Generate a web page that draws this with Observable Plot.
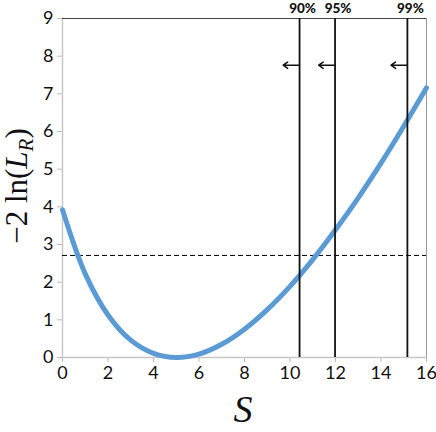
<!DOCTYPE html>
<html>
<head>
<meta charset="utf-8">
<script src="https://cdn.jsdelivr.net/npm/d3@7"></script>
<script src="https://cdn.jsdelivr.net/npm/@observablehq/plot@0.6"></script>
<style>
  html, body { margin: 0; padding: 0; background: #fff; }
  #chart { width: 436px; height: 432px; }
</style>
</head>
<body>
<div id="chart"></div>
<script>
// Curve values
const sValues = [0, 1, 2, 3, 4, 5, 6, 7, 8, 9, 10, 11, 12, 13, 14, 15, 16];
const llrValues = [3.92, 2.22, 1.13, 0.46, 0.11, 0, 0.09, 0.35, 0.75, 1.27, 1.89, 2.6, 3.39, 4.24, 5.16, 6.14, 7.16];

// Confidence-limit lines
const limitLabels = ["90%", "95%", "99%"];
const limitValues = [10.42, 11.98, 15.16];

const thresholdValue = 2.71;
const arrowY = 7.76;
const arrowLength = 0.72;

const xTicks = [0, 2, 4, 6, 8, 10, 12, 14, 16];
const yTicks = [0, 1, 2, 3, 4, 5, 6, 7, 8, 9];

const curve = sValues.map((s, i) => ({s, v: llrValues[i]}));
const limits = limitLabels.map((label, i) => ({label, s: limitValues[i]}));

const tickFont = "Lato, 'Open Sans', sans-serif";

const chart = Plot.plot({
  width: 436,
  height: 432,
  marginLeft: 62,
  marginRight: 10,
  marginTop: 18,
  marginBottom: 75,
  style: {fontFamily: tickFont, background: "#fff", overflow: "visible"},
  x: {domain: [0, 16], ticks: xTicks},
  y: {domain: [0, 9], ticks: yTicks},
  marks: [
    Plot.axisX({ticks: xTicks, tickSize: 5, tickPadding: 4, stroke: "#bbb", fontSize: 18, color: "#111", label: null}),
    Plot.axisY({ticks: yTicks, tickSize: 5, tickPadding: 4, stroke: "#bbb", fontSize: 18, color: "#111", label: null}),
    Plot.ruleY([0], {stroke: "#c8c8c8", strokeWidth: 1.5}),
    Plot.ruleX([0], {stroke: "#c8c8c8", strokeWidth: 1.5}),
    Plot.ruleY([9], {stroke: "#444", strokeWidth: 1}),
    Plot.ruleX([16], {stroke: "#999", strokeWidth: 1}),
    Plot.ruleY([thresholdValue], {stroke: "#000", strokeWidth: 1, strokeDasharray: "5,3"}),
    Plot.line(curve, {x: "s", y: "v", curve: "catmull-rom", stroke: "#5b9bd5", strokeWidth: 5}),
    Plot.ruleX(limits, {x: "s", stroke: "#111", strokeWidth: 1.8}),
    Plot.arrow(limits, {x1: "s", x2: d => d.s - arrowLength, y1: arrowY, y2: arrowY, stroke: "#111", strokeWidth: 1.5, headLength: 7, headAngle: 70}),
    Plot.text(limits, {x: "s", y: 9, text: "label", dx: 3, dy: -6, lineAnchor: "bottom", fontWeight: 900, fontSize: 13.5, fill: "#111"})
  ]
});

document.getElementById("chart").appendChild(chart);

const svg = d3.select(chart);
// x label
svg.append("text")
  .attr("x", 243).attr("y", 422)
  .attr("text-anchor", "middle")
  .attr("font-family", "'Liberation Serif', 'DejaVu Serif', serif")
  .attr("font-style", "italic")
  .attr("font-size", 38)
  .attr("fill", "#111")
  .text("S");

// y label
const yl = svg.append("text")
  .attr("transform", "translate(27,186) rotate(-90)")
  .attr("text-anchor", "middle")
  .attr("font-family", "'Liberation Serif', 'DejaVu Serif', serif")
  .attr("font-size", 31)
  .attr("fill", "#111");
yl.append("tspan").text("\u22122 ln(");
yl.append("tspan").attr("font-style", "italic").text("L");
yl.append("tspan").attr("font-style", "italic").attr("font-size", 21).attr("dy", 6).text("R");
yl.append("tspan").attr("dy", -6).text(")");
</script>
</body>
</html>
